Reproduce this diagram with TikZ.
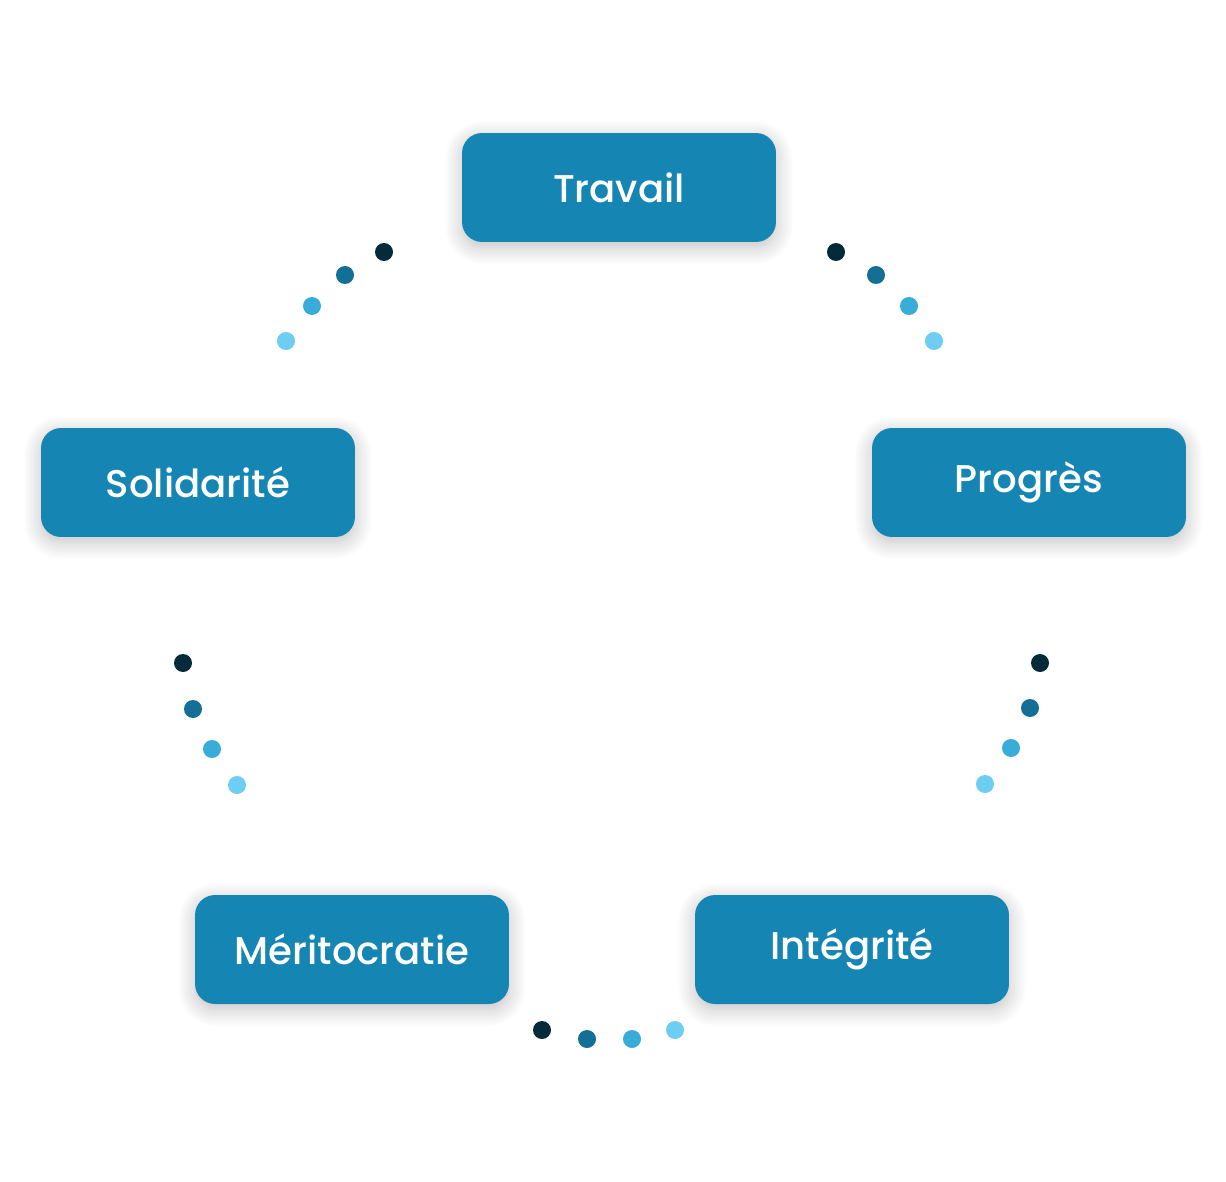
\documentclass[tikz,border=0pt]{standalone}
\usepackage{fontspec}
\setmainfont{Poppins}[UprightFont={Poppins Medium}]
\usetikzlibrary{shadows.blur}

\definecolor{boxblue}{HTML}{1585B4}
\definecolor{dotA}{HTML}{052B3B}
\definecolor{dotB}{HTML}{136F96}
\definecolor{dotC}{HTML}{3AACD9}
\definecolor{dotD}{HTML}{6ECDF2}

\tikzset{
  valuebox/.style={rounded corners=0.4cm, fill=boxblue, text=white,
    minimum width=6.28cm, minimum height=2.18cm,
    font=\fontsize{22}{26}\selectfont,
    blur shadow={shadow xshift=0pt, shadow yshift=-3pt,
      shadow blur radius=10pt, shadow blur steps=12, shadow opacity=25}},
  bead/.style={circle, inner sep=0pt, minimum size=0.36cm},
}

\begin{document}
\begin{tikzpicture}[x=0.02cm, y=-0.02cm]
  \useasboundingbox (0,0) rectangle (1226,1182);

  % value boxes
  \node[valuebox] (travail) at (619,187.5) {Travail};
  \node[valuebox] (progres) at (1029,482.5) {Progrès};
  \node[valuebox] (solidarite) at (198,482.5) {Solidarité};
  \node[valuebox] (meritocratie) at (352,949.5) {Méritocratie};
  \node[valuebox] (integrite) at (852,949.5) {Intégrité};

  % dotted links between the boxes
  \foreach \x/\y/\c [count=\i] in {
      384/252/dotA, 345/275/dotB, 312/306/dotC, 286/341/dotD,
      836/252/dotA, 876/275/dotB, 909/306/dotC, 934/341/dotD,
      1040/663/dotA, 1030/708/dotB, 1011/748/dotC, 985/784/dotD,
      183/663/dotA, 193/709/dotB, 212/749/dotC, 237/785/dotD,
      542/1030/dotA, 587/1039/dotB, 632/1039/dotC, 675/1030/dotD}
    \node[bead, fill=\c] (bead\i) at (\x,\y) {};
\end{tikzpicture}
\end{document}
